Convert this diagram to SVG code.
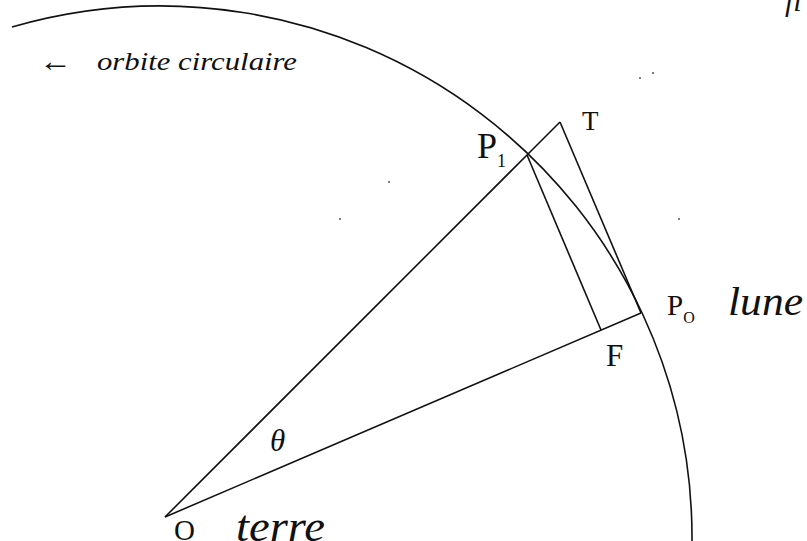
<svg xmlns="http://www.w3.org/2000/svg" width="807" height="541" viewBox="0 0 807 541">
<style>
.ln{stroke:#111;stroke-width:1.6;fill:none}
.t{font-family:"Liberation Serif",serif;fill:#111}
.i{font-style:italic}
.d{fill:#555}
</style>
<rect width="807" height="541" fill="#fff"/>
<g id="orbit">
<path class="ln" d="M12,27 A532,532 0 0 1 692,541"/>
</g>
<g id="connectors">
<line class="ln" x1="165" y1="517" x2="527" y2="155"/>
<line class="ln" x1="165" y1="517" x2="641" y2="313"/>
<line class="ln" x1="527" y1="155" x2="560" y2="122"/>
<line class="ln" x1="560" y1="122" x2="641" y2="313"/>
<line class="ln" x1="527" y1="155" x2="601" y2="330"/>
</g>
<g id="dots">
<circle class="d" cx="640" cy="78" r="1"/>
<circle class="d" cx="653" cy="73" r="1"/>
<circle class="d" cx="389" cy="182" r="1"/>
<circle class="d" cx="340" cy="219" r="1"/>
<circle class="d" cx="679" cy="219" r="1"/>
</g>
<g id="labels">
<text class="t i" x="785" y="11" font-size="30">fi</text>
<text class="t" x="39" y="71" font-size="30" textLength="33" lengthAdjust="spacingAndGlyphs">←</text>
<text class="t i" x="97" y="70" font-size="26" textLength="200" lengthAdjust="spacingAndGlyphs">orbite circulaire</text>
<g id="T"><text class="t" x="582" y="130" font-size="27">T</text></g>
<g id="P1"><text class="t" x="477" y="158" font-size="36">P<tspan font-size="18" dy="9">1</tspan></text></g>
<g id="P0"><text class="t" x="667" y="315" font-size="29">P<tspan font-size="16" dy="8">O</tspan></text></g>
<text class="t i" x="728" y="315" font-size="40" textLength="75" lengthAdjust="spacingAndGlyphs">lune</text>
<g id="F"><text class="t" x="606" y="366" font-size="31">F</text></g>
<text class="t i" x="270" y="451" font-size="31">θ</text>
<g id="O"><text class="t" x="174" y="540" font-size="29">O</text></g>
<text class="t i" x="236" y="541" font-size="44" textLength="89" lengthAdjust="spacingAndGlyphs">terre</text>
</g>
</svg>
